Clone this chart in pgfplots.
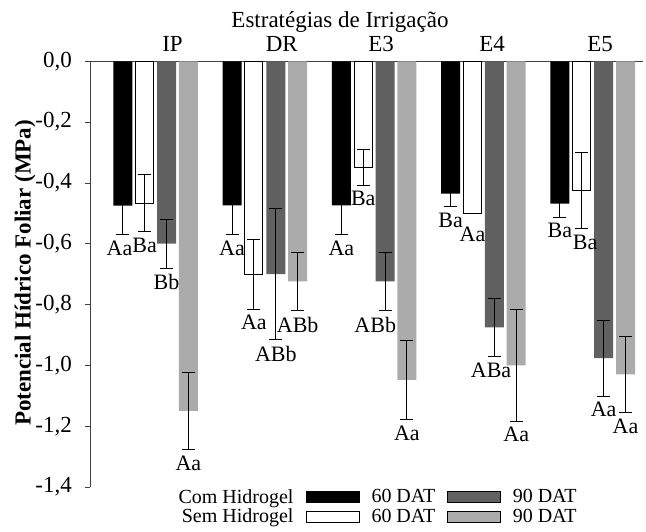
\documentclass[border=0pt]{standalone}
\usepackage{pgfplots}
\pgfplotsset{compat=1.18}
\usepackage{pgfplotstable}
\usepackage{fontspec}
\setmainfont{Liberation Serif}
\definecolor{darkbar}{gray}{0.38}
\definecolor{lightbar}{gray}{0.67}

% Com Hidrogel, 60 DAT
\pgfplotstableread{
x y e
-0.3 -0.475 0.095
0.7 -0.474 0.095
1.7 -0.474 0.095
2.7 -0.435 0.043
3.7 -0.468 0.045
}\comsessenta
% Sem Hidrogel, 60 DAT
\pgfplotstableread{
x y e
-0.1 -0.467 0.094
0.9 -0.700 0.115
1.9 -0.349 0.058
2.9 -0.500 0.000
3.9 -0.425 0.126
}\semsessenta
% Com Hidrogel, 90 DAT
\pgfplotstableread{
x y e
0.1 -0.600 0.081
1.1 -0.700 0.216
2.1 -0.724 0.096
3.1 -0.875 0.096
4.1 -0.976 0.125
}\comnoventa
% Sem Hidrogel, 90 DAT
\pgfplotstableread{
x y e
0.3 -1.150 0.128
1.3 -0.724 0.096
2.3 -1.048 0.130
3.3 -1.000 0.183
4.3 -1.030 0.125
}\semnoventa
% letters
\pgfplotstableread{
x y lab
-0.33 -0.570 Aa
-0.1 -0.561 Ba
0.1 -0.681 Bb
0.3 -1.278 Aa
0.7 -0.569 Aa
0.9 -0.815 Aa
1.1 -0.916 ABb
1.3 -0.820 ABb
1.7 -0.569 Aa
1.9 -0.407 Ba
2.01 -0.820 ABb
2.3 -1.178 Aa
2.7 -0.478 Ba
2.9 -0.523 Aa
3.07 -0.971 ABa
3.3 -1.183 Aa
3.7 -0.513 Ba
3.93 -0.551 Ba
4.1 -1.101 Aa
4.3 -1.155 Aa
}\letras

\begin{document}
\begin{tikzpicture}
\useasboundingbox (-90pt,-44pt) rectangle (556pt,487pt);
\begin{axis}[
  at={(0pt,0pt)}, anchor=south west,
  scale only axis, width=553pt, height=425.7pt,
  xmin=-0.6, xmax=4.46, ymin=-1.4, ymax=0,
  clip=false,
  axis x line*=top, axis y line*=left,
  axis line style={black!75, line width=0.8pt},
  xtick={0.155,1.155,2.063,3.079,4.067},
  xticklabels={IP,DR,E3,E4,E5},
  x tick style={draw=none},
  xticklabel style={anchor=base, inner sep=0pt, yshift=5pt},
  ytick={-1.4,-1.2,-1,-0.8,-0.6,-0.4,-0.2,0},
  y tick style={black!75, line width=0.8pt},
  tick align=outside, major tick length=5pt,
  tick label style={font=\fontsize{23}{26}\selectfont},
  yticklabel style={/pgf/number format/fixed, /pgf/number format/fixed zerofill,
    /pgf/number format/precision=1, /pgf/number format/use comma,
    /pgf/number format/assume math mode=true},
  yticklabel style={inner sep=0pt, anchor=east, xshift=-13pt},
  legend style={at={(0.138,0)}, anchor=north west, yshift=-2pt, draw=none, fill=none, inner sep=0pt,
    font=\fontsize{20}{22}\selectfont, nodes={inner sep=0pt}, row sep=4.5pt,
    /tikz/every odd column/.append style={column sep=12pt},
    /tikz/every even column/.append style={column sep=12pt}},
  legend columns=3,
  legend cell align=right,
  legend image code/.code={\draw[#1] (0pt,-5.5pt) rectangle (53pt,5.5pt);},
]
\addlegendimage{empty legend}\addlegendentry{Com Hidrogel}
\addlegendimage{fill=black, draw=none}\addlegendentry{60 DAT}
\addlegendimage{fill=darkbar, draw=none}\addlegendentry{90 DAT}
\addlegendimage{empty legend}\addlegendentry{Sem Hidrogel}
\addlegendimage{fill=white, draw=black, line width=1pt}\addlegendentry{60 DAT}
\addlegendimage{fill=lightbar, draw=none}\addlegendentry{90 DAT}

\addplot[ybar, bar width=19pt, bar shift=0pt, fill=black, draw=none, forget plot,
  error bars/.cd, y dir=both, y explicit,
  error bar style={draw=black, line width=0.9pt},
  error mark options={draw=black, rotate=90, mark size=6.5pt, line width=0.9pt}]
  table[x=x, y=y, y error=e] {\comsessenta};
\addplot[ybar, bar width=18pt, bar shift=0pt, fill=white, draw=black, line width=1pt, forget plot,
  error bars/.cd, y dir=both, y explicit,
  error bar style={draw=black, line width=0.9pt},
  error mark options={draw=black, rotate=90, mark size=6.5pt, line width=0.9pt}]
  table[x=x, y=y, y error=e] {\semsessenta};
\addplot[ybar, bar width=19pt, bar shift=0pt, fill=darkbar, draw=none, forget plot,
  error bars/.cd, y dir=both, y explicit,
  error bar style={draw=black, line width=0.9pt},
  error mark options={draw=black, rotate=90, mark size=6.5pt, line width=0.9pt}]
  table[x=x, y=y, y error=e] {\comnoventa};
\addplot[ybar, bar width=19pt, bar shift=0pt, fill=lightbar, draw=none, forget plot,
  error bars/.cd, y dir=both, y explicit,
  error bar style={draw=black, line width=0.9pt},
  error mark options={draw=black, rotate=90, mark size=6.5pt, line width=0.9pt}]
  table[x=x, y=y, y error=e] {\semnoventa};

\addplot[draw=none, mark=none, forget plot, nodes near coords, point meta=explicit symbolic,
  nodes near coords align={below},
  every node near coord/.append style={font=\fontsize{22}{24}\selectfont, inner sep=0pt, yshift=-6pt, text=black}]
  table[x=x, y=y, meta=lab] {\letras};
\end{axis}
\node[anchor=base, font=\fontsize{23}{26}\selectfont] at (250pt,459pt) {Estratégias de Irrigação};
\node[rotate=90, anchor=center, font=\fontsize{23}{26}\selectfont\bfseries] at (-65pt,214pt) {Potencial Hídrico Foliar (MPa)};
\end{tikzpicture}
\end{document}
